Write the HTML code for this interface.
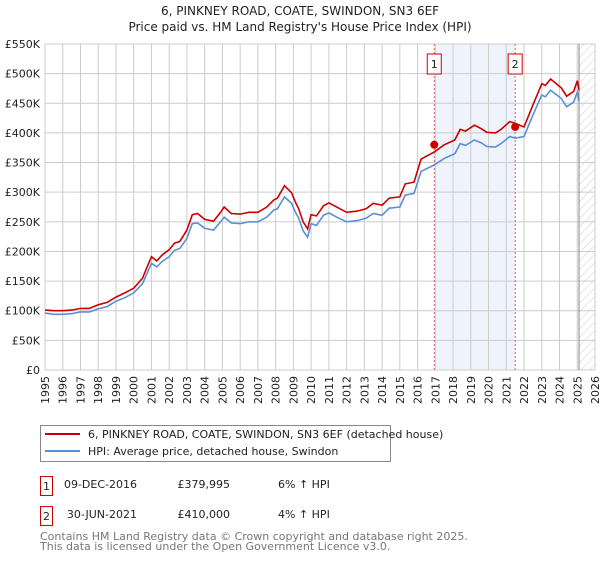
<!DOCTYPE html>
<html><head><meta charset="utf-8"><style>
body{margin:0;background:#fff;font-family:"Liberation Sans","DejaVu Sans",sans-serif;}
svg text{font-family:"DejaVu Sans","Liberation Sans",sans-serif;}
</style></head><body>
<svg id="c" width="600" height="560" xmlns="http://www.w3.org/2000/svg">
<defs><pattern id="hatch" width="6" height="6" patternUnits="userSpaceOnUse" patternTransform="rotate(45)"><line x1="0" y1="0" x2="0" y2="6" stroke="#ccc" stroke-width="1"/></pattern></defs>
<text x="300" y="15" text-anchor="middle" font-size="12" fill="#222">6, PINKNEY ROAD, COATE, SWINDON, SN3 6EF</text>
<text x="300" y="31" text-anchor="middle" font-size="12" fill="#222">Price paid vs. HM Land Registry's House Price Index (HPI)</text>
<g id="plot"></g>
<g>
<rect x="40.5" y="425.5" width="350" height="36" fill="#fff" stroke="#888"/>
<line x1="45" y1="434" x2="80" y2="434" stroke="#cc0000" stroke-width="2"/>
<text x="88" y="438" font-size="11" fill="#222">6, PINKNEY ROAD, COATE, SWINDON, SN3 6EF (detached house)</text>
<line x1="45" y1="451" x2="80" y2="451" stroke="#5b8fd4" stroke-width="2"/>
<text x="88" y="455" font-size="11" fill="#222">HPI: Average price, detached house, Swindon</text>
</g>
<g font-size="11" fill="#222">
<rect x="40.5" y="476.5" width="12" height="19" fill="#fff" stroke="#cc0000"/><text x="46.5" y="490" text-anchor="middle">1</text>
<text x="137" y="488" text-anchor="end">09-DEC-2016</text><text x="230" y="488" text-anchor="end">£379,995</text><text x="278" y="488">6% ↑ HPI</text>
<rect x="40.5" y="506.5" width="12" height="19" fill="#fff" stroke="#cc0000"/><text x="46.5" y="520" text-anchor="middle">2</text>
<text x="137" y="518" text-anchor="end">30-JUN-2021</text><text x="230" y="518" text-anchor="end">£410,000</text><text x="278" y="518">4% ↑ HPI</text>
</g>
<text x="40" y="540" font-size="11" fill="#777">Contains HM Land Registry data © Crown copyright and database right 2025.</text>
<text x="40" y="550" font-size="11" fill="#777">This data is licensed under the Open Government Licence v3.0.</text>
</svg>
<script>
const yTicks=[0,50,100,150,200,250,300,350,400,450,500,550];
const yTickLabels=["£0","£50K","£100K","£150K","£200K","£250K","£300K","£350K","£400K","£450K","£500K","£550K"];
const years=[1995,1996,1997,1998,1999,2000,2001,2002,2003,2004,2005,2006,2007,2008,2009,2010,2011,2012,2013,2014,2015,2016,2017,2018,2019,2020,2021,2022,2023,2024,2025,2026];
const dates=[1995,1995.5,1996,1996.5,1997,1997.5,1998,1998.5,1999,1999.5,2000,2000.5,2000.8,2001,2001.3,2001.6,2002,2002.3,2002.6,2003,2003.3,2003.6,2004,2004.5,2004.9,2005.1,2005.5,2006,2006.5,2007,2007.5,2007.9,2008.1,2008.5,2008.9,2009.1,2009.3,2009.55,2009.8,2010,2010.3,2010.7,2011,2011.5,2012,2012.6,2013.1,2013.5,2014,2014.4,2015,2015.3,2015.8,2016.2,2016.94,2017.5,2018.1,2018.4,2018.7,2019.2,2019.6,2019.9,2020.4,2020.7,2021.2,2021.5,2022,2022.5,2023,2023.2,2023.5,2024.1,2024.4,2024.8,2025,2025.1];
const hpi=[96,94,94,95,98,98,103,107,116,122,130,146,166,180,174,183,191,202,205,222,247,248,239,236,250,258,248,247,250,250,258,270,272,292,281,267,256,235,224,247,244,261,265,257,250,252,256,264,261,273,275,295,298,335,346,357,365,382,379,388,383,377,376,382,394,391,394,430,464,461,472,458,444,452,469,454];
const price=[101,100,100,101,104,104,110,114,123,130,138,155,177,191,184,194,203,214,217,236,262,264,254,251,266,275,264,263,266,266,275,287,290,311,299,284,272,250,238,262,260,277,282,274,266,268,272,281,278,290,292,314,317,356,368,380,388,406,403,413,407,401,400,406,419,416,410,447,483,480,491,476,462,470,488,472];
const sales=[{d:2016.94,v:379.995,n:"1"},{d:2021.5,v:410,n:"2"}];
const X0=45,X1=595,Y0=370,Y1=44;
const x=t=>X0+(t-1995)/31*(X1-X0);
const y=v=>Y0-v/550*(Y0-Y1);
const ns="http://www.w3.org/2000/svg",g=document.getElementById('plot');
function mk(tag,at,parent){const e=document.createElementNS(ns,tag);for(const k in at)e.setAttribute(k,at[k]);(parent||g).appendChild(e);return e;}
let e;
e=mk('rect',{x:x(sales[0].d),y:Y1,width:x(sales[1].d)-x(sales[0].d),height:Y0-Y1,fill:'#eef3fc'});


e=mk('rect',{x:x(2025.1),y:Y1,width:X1-x(2025.1),height:Y0-Y1,fill:'url(#hatch)'});


yTicks.forEach((v,i)=>{
 e=mk('line',{x1:X0,x2:X1,y1:y(v),y2:y(v),stroke:'#ccc','stroke-width':1});
 
 
 e=mk('text',{x:40,y:y(v)+4,'text-anchor':'end','font-size':11,fill:'#222'});e.textContent=yTickLabels[i];
 
 
});
years.forEach(yr=>{
 e=mk('line',{x1:x(yr),x2:x(yr),y1:Y1,y2:Y0,stroke:'#ccc','stroke-width':1});
 
 
 const grp=mk('g',{transform:'translate('+(x(yr)+4)+','+(Y0+6)+') rotate(-90)'});
 e=mk('text',{x:0,y:0,'text-anchor':'end','font-size':11,fill:'#222'},grp);e.textContent=yr;
 
 
});
e=mk('line',{x1:x(2025.1),x2:x(2025.1),y1:Y1,y2:Y0,stroke:'#888','stroke-width':1});


sales.forEach(s=>{
 e=mk('line',{x1:x(s.d),x2:x(s.d),y1:Y1,y2:Y0,stroke:'#e06060','stroke-width':1,'stroke-dasharray':'2,2'});
 
 
 e=mk('rect',{x:x(s.d)-7,y:54,width:14,height:20,fill:'#fff',stroke:'#cc0000'});
 
 
 e=mk('text',{x:x(s.d),y:68,'text-anchor':'middle','font-size':11,fill:'#222'});e.textContent=s.n;
 
 
});
const pts=a=>dates.map((d,i)=>x(d).toFixed(1)+','+y(a[i]).toFixed(1)).join(' ');
e=mk('polyline',{points:pts(hpi),fill:'none',stroke:'#5b8fd4','stroke-width':1.6});


e=mk('polyline',{points:pts(price),fill:'none',stroke:'#cc0000','stroke-width':1.6});


sales.forEach(s=>{
 e=mk('circle',{cx:x(s.d),cy:y(s.v),r:4,fill:'#cc0000'});
 
 
});
</script>
</body></html>
